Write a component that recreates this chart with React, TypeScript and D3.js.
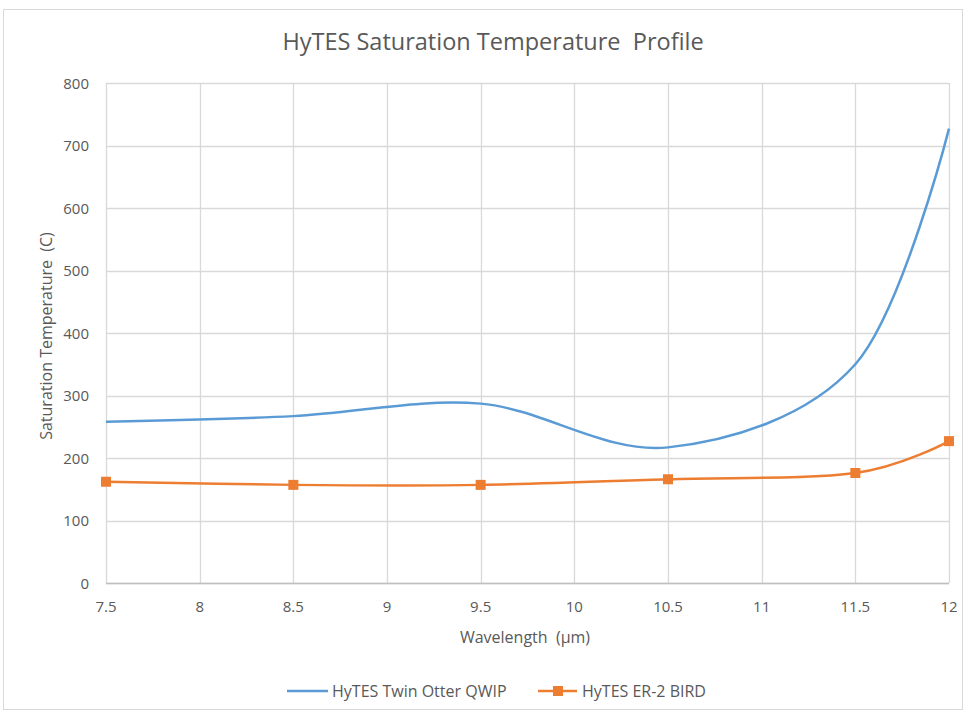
import React, { useEffect, useRef } from "react";
import * as d3 from "d3";

// wavelengths (um) and saturation temperatures (C)
const wavelengths = [7.5, 8.5, 9.5, 10.5, 11.5, 12];
const qwipY = [258, 267, 287, 217, 350, 727];
const birdY = [162, 157, 157, 166, 176, 227];
const xTicks = [7.5, 8, 8.5, 9, 9.5, 10, 10.5, 11, 11.5, 12];
const yTicks = [0, 100, 200, 300, 400, 500, 600, 700, 800];

const width = 967, height = 713;
const margin = { top: 83, right: 18, bottom: 130, left: 106 };
const font = "'Open Sans', 'Liberation Sans', sans-serif";

export default function App() {
  const ref = useRef<SVGSVGElement>(null);

  useEffect(() => {
    const svg = d3.select(ref.current);
    svg.selectAll("*").remove();

    svg.append("rect").attr("width", width).attr("height", height).attr("fill", "#fff");
    // chart area border
    svg.append("rect")
      .attr("x", 3.5).attr("y", 9.5).attr("width", 959).attr("height", 700)
      .attr("fill", "none").attr("stroke", "#d9d9d9");

    const x = d3.scaleLinear().domain([7.5, 12]).range([margin.left, width - margin.right]);
    const y = d3.scaleLinear().domain([0, 800]).range([height - margin.bottom, margin.top]);

    // title
    svg.append("text")
      .attr("x", 493).attr("y", 50)
      .attr("text-anchor", "middle")
      .style("white-space", "pre")
      .style("font-family", font).style("font-size", "23.5px").style("fill", "#595959")
      .text("HyTES Saturation Temperature  Profile");

    // grid
    const grid = svg.append("g").attr("stroke", "#d9d9d9").attr("stroke-width", 1.3);
    grid.selectAll(".h").data(yTicks).join("line")
      .attr("x1", x(7.5)).attr("x2", x(12))
      .attr("y1", d => Math.round(y(d)) + 0.5).attr("y2", d => Math.round(y(d)) + 0.5);
    grid.selectAll(".v").data(xTicks).join("line")
      .attr("y1", y(0)).attr("y2", y(800))
      .attr("x1", d => Math.round(x(d)) + 0.5).attr("x2", d => Math.round(x(d)) + 0.5);
    svg.append("line")
      .attr("x1", x(7.5)).attr("x2", x(12)).attr("y1", y(0) + 0.5).attr("y2", y(0) + 0.5)
      .attr("stroke", "#bfbfbf").attr("stroke-width", 1.3);

    // tick labels
    svg.append("g").selectAll("text").data(yTicks).join("text")
      .attr("x", margin.left - 17).attr("y", d => y(d) + 5.5)
      .attr("text-anchor", "end")
      .style("font-family", font).style("font-size", "15px").style("fill", "#595959")
      .text(d => d);
    svg.append("g").selectAll("text").data(xTicks).join("text")
      .attr("x", d => x(d)).attr("y", y(0) + 29)
      .attr("text-anchor", "middle")
      .style("font-family", font).style("font-size", "15px").style("fill", "#595959")
      .text(d => d);

    // axis titles
    svg.append("text")
      .attr("x", 525).attr("y", 643)
      .attr("text-anchor", "middle")
      .style("white-space", "pre")
      .style("font-family", font).style("font-size", "16px").style("fill", "#595959")
      .text("Wavelength  (\u00b5m)");
    svg.append("text")
      .attr("transform", `translate(52,${y(400) + 3}) rotate(-90)`)
      .attr("text-anchor", "middle")
      .style("white-space", "pre")
      .style("font-family", font).style("font-size", "16px").style("fill", "#595959")
      .text("Saturation Temperature  (C)");

    const line = d3.line<number>()
      .x((d, i) => x(wavelengths[i]))
      .y(d => y(d))
      .curve(d3.curveCatmullRom.alpha(0));

    const blue = "#5b9bd5", orange = "#ed7d31";

    svg.append("path")
      .attr("d", line(qwipY))
      .attr("fill", "none").attr("stroke", blue).attr("stroke-width", 2.5);

    svg.append("path")
      .attr("d", line(birdY))
      .attr("fill", "none").attr("stroke", orange).attr("stroke-width", 2.5);

    svg.append("g").selectAll("rect").data(birdY).join("rect")
      .attr("x", (d, i) => x(wavelengths[i]) - 5).attr("y", d => y(d) - 5)
      .attr("width", 10).attr("height", 10).attr("fill", orange);

    // legend
    const lg = svg.append("g").style("font-family", font).style("font-size", "16px").style("fill", "#595959");
    lg.append("line").attr("x1", 287).attr("x2", 328).attr("y1", 691).attr("y2", 691)
      .attr("stroke", blue).attr("stroke-width", 2.5);
    lg.append("text").attr("x", 332).attr("y", 697).text("HyTES Twin Otter QWIP");
    lg.append("line").attr("x1", 538).attr("x2", 577).attr("y1", 691).attr("y2", 691)
      .attr("stroke", orange).attr("stroke-width", 2.5);
    lg.append("rect").attr("x", 553).attr("y", 686).attr("width", 10).attr("height", 10).attr("fill", orange);
    lg.append("text").attr("x", 582).attr("y", 697).text("HyTES ER-2 BIRD");
  }, []);

  return (
    <svg ref={ref} width={width} height={height}
      style={{ position: "absolute", left: 0, top: 0, display: "block" }} />
  );
}
